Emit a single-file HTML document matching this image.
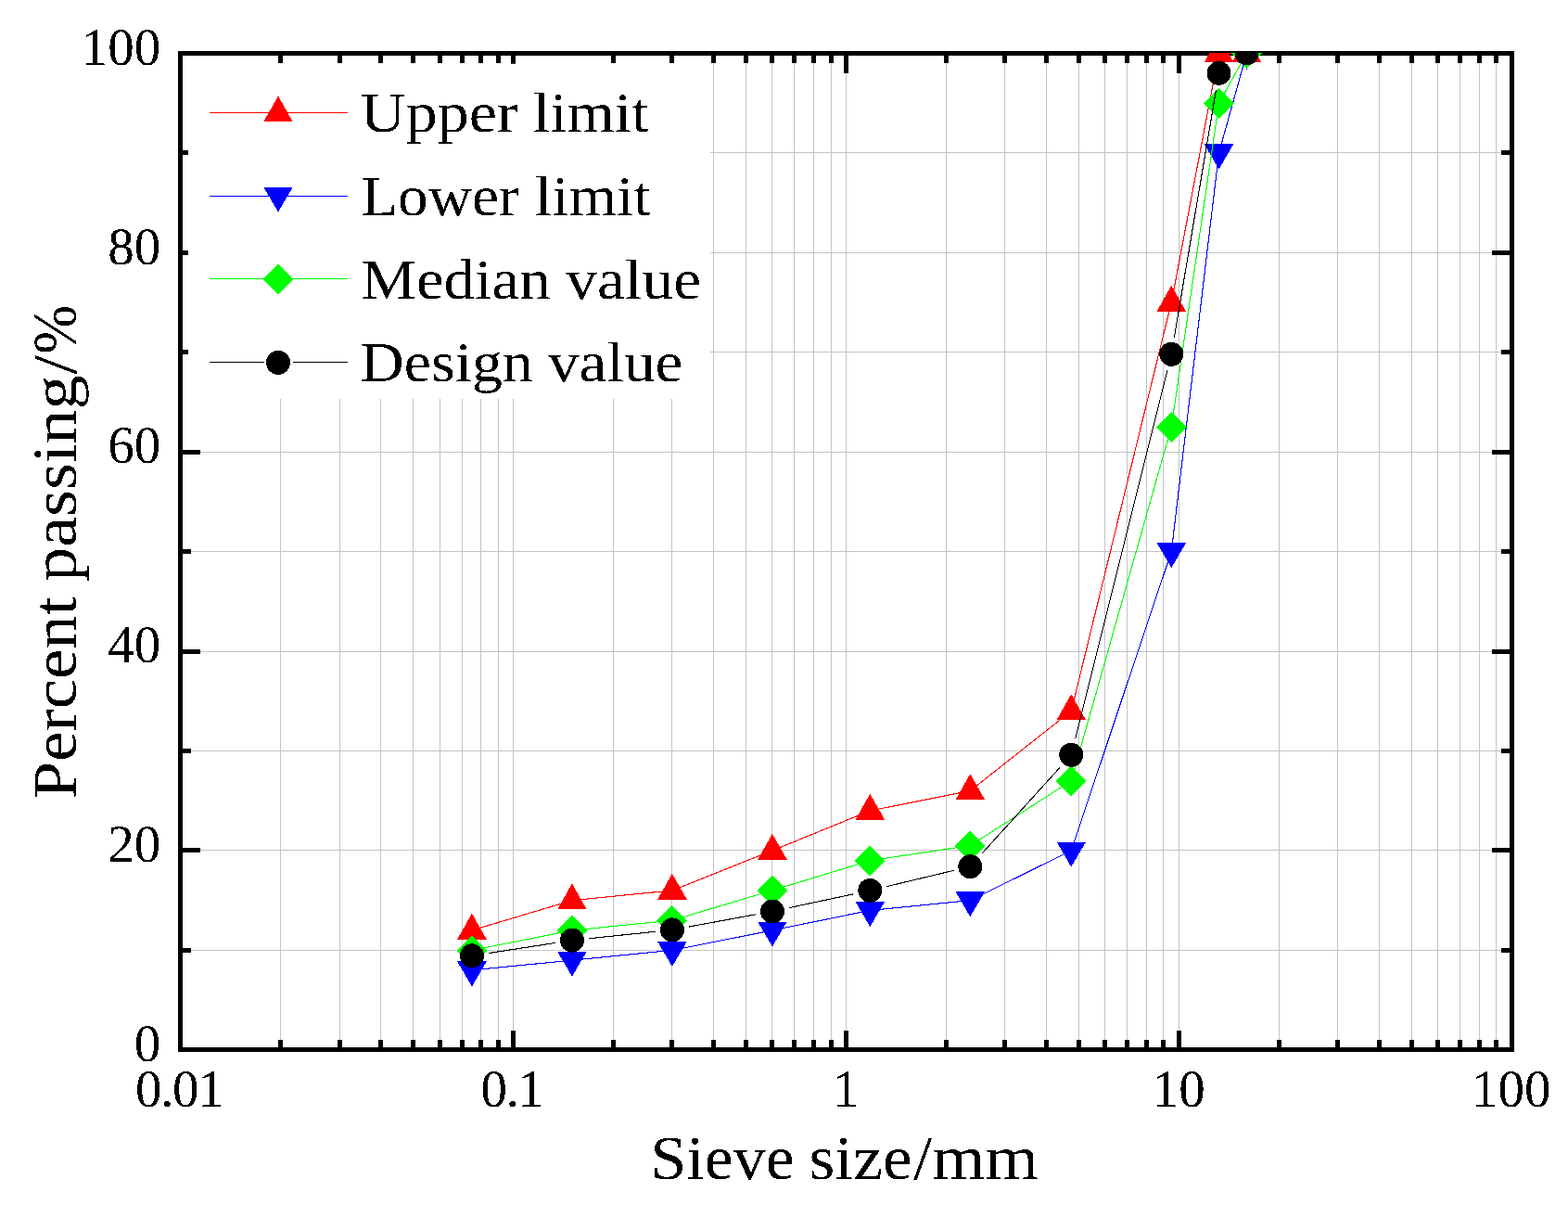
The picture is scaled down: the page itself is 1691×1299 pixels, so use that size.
<!DOCTYPE html>
<html lang="en"><head><meta charset="utf-8"><title>Sieve gradation curve</title>
<style>html,body{margin:0;padding:0;background:#fff;}body{width:1691px;height:1299px;overflow:hidden;}svg{display:block;}text{font-family:"Liberation Serif","DejaVu Serif",serif;fill:#000;}</style></head><body>
<svg width="1691" height="1299" viewBox="0 0 1691 1299" role="img" aria-label="Sieve gradation curve: percent passing versus sieve size">
<rect x="0" y="0" width="1691" height="1299" fill="#ffffff"/>
<defs><filter id="crisp" x="-5%" y="-5%" width="110%" height="110%" color-interpolation-filters="sRGB"><feComponentTransfer><feFuncA type="discrete" tableValues="0 1"/></feComponentTransfer></filter></defs>
<defs><clipPath id="plot"><rect x="194.5" y="57.0" width="1436.00" height="1074.50"/></clipPath></defs>
<g stroke="#c3c3c3" stroke-width="1" shape-rendering="crispEdges" fill="none">
<line x1="302.50" y1="57.5" x2="302.50" y2="1131.5"/>
<line x1="366.50" y1="57.5" x2="366.50" y2="1131.5"/>
<line x1="410.50" y1="57.5" x2="410.50" y2="1131.5"/>
<line x1="445.50" y1="57.5" x2="445.50" y2="1131.5"/>
<line x1="474.50" y1="57.5" x2="474.50" y2="1131.5"/>
<line x1="498.50" y1="57.5" x2="498.50" y2="1131.5"/>
<line x1="518.50" y1="57.5" x2="518.50" y2="1131.5"/>
<line x1="537.50" y1="57.5" x2="537.50" y2="1131.5"/>
<line x1="553.50" y1="57.5" x2="553.50" y2="1131.5"/>
<line x1="661.50" y1="57.5" x2="661.50" y2="1131.5"/>
<line x1="724.50" y1="57.5" x2="724.50" y2="1131.5"/>
<line x1="769.50" y1="57.5" x2="769.50" y2="1131.5"/>
<line x1="804.50" y1="57.5" x2="804.50" y2="1131.5"/>
<line x1="832.50" y1="57.5" x2="832.50" y2="1131.5"/>
<line x1="856.50" y1="57.5" x2="856.50" y2="1131.5"/>
<line x1="877.50" y1="57.5" x2="877.50" y2="1131.5"/>
<line x1="896.50" y1="57.5" x2="896.50" y2="1131.5"/>
<line x1="912.50" y1="57.5" x2="912.50" y2="1131.5"/>
<line x1="1020.50" y1="57.5" x2="1020.50" y2="1131.5"/>
<line x1="1083.50" y1="57.5" x2="1083.50" y2="1131.5"/>
<line x1="1128.50" y1="57.5" x2="1128.50" y2="1131.5"/>
<line x1="1163.50" y1="57.5" x2="1163.50" y2="1131.5"/>
<line x1="1191.50" y1="57.5" x2="1191.50" y2="1131.5"/>
<line x1="1215.50" y1="57.5" x2="1215.50" y2="1131.5"/>
<line x1="1236.50" y1="57.5" x2="1236.50" y2="1131.5"/>
<line x1="1254.50" y1="57.5" x2="1254.50" y2="1131.5"/>
<line x1="1271.50" y1="57.5" x2="1271.50" y2="1131.5"/>
<line x1="1379.50" y1="57.5" x2="1379.50" y2="1131.5"/>
<line x1="1442.50" y1="57.5" x2="1442.50" y2="1131.5"/>
<line x1="1487.50" y1="57.5" x2="1487.50" y2="1131.5"/>
<line x1="1522.50" y1="57.5" x2="1522.50" y2="1131.5"/>
<line x1="1550.50" y1="57.5" x2="1550.50" y2="1131.5"/>
<line x1="1574.50" y1="57.5" x2="1574.50" y2="1131.5"/>
<line x1="1595.50" y1="57.5" x2="1595.50" y2="1131.5"/>
<line x1="1613.50" y1="57.5" x2="1613.50" y2="1131.5"/>
<line x1="194.5" y1="1024.50" x2="1630.5" y2="1024.50"/>
<line x1="194.5" y1="916.50" x2="1630.5" y2="916.50"/>
<line x1="194.5" y1="809.50" x2="1630.5" y2="809.50"/>
<line x1="194.5" y1="702.50" x2="1630.5" y2="702.50"/>
<line x1="194.5" y1="594.50" x2="1630.5" y2="594.50"/>
<line x1="194.5" y1="487.50" x2="1630.5" y2="487.50"/>
<line x1="194.5" y1="379.50" x2="1630.5" y2="379.50"/>
<line x1="194.5" y1="272.50" x2="1630.5" y2="272.50"/>
<line x1="194.5" y1="164.50" x2="1630.5" y2="164.50"/>
</g>
<g stroke="#000" stroke-width="5.0" fill="none" shape-rendering="crispEdges">
<line x1="302.50" y1="1131.5" x2="302.50" y2="1121.0"/>
<line x1="302.50" y1="57.5" x2="302.50" y2="68.0"/>
<line x1="366.50" y1="1131.5" x2="366.50" y2="1121.0"/>
<line x1="366.50" y1="57.5" x2="366.50" y2="68.0"/>
<line x1="410.50" y1="1131.5" x2="410.50" y2="1121.0"/>
<line x1="410.50" y1="57.5" x2="410.50" y2="68.0"/>
<line x1="445.50" y1="1131.5" x2="445.50" y2="1121.0"/>
<line x1="445.50" y1="57.5" x2="445.50" y2="68.0"/>
<line x1="474.50" y1="1131.5" x2="474.50" y2="1121.0"/>
<line x1="474.50" y1="57.5" x2="474.50" y2="68.0"/>
<line x1="498.50" y1="1131.5" x2="498.50" y2="1121.0"/>
<line x1="498.50" y1="57.5" x2="498.50" y2="68.0"/>
<line x1="518.50" y1="1131.5" x2="518.50" y2="1121.0"/>
<line x1="518.50" y1="57.5" x2="518.50" y2="68.0"/>
<line x1="537.50" y1="1131.5" x2="537.50" y2="1121.0"/>
<line x1="537.50" y1="57.5" x2="537.50" y2="68.0"/>
<line x1="553.50" y1="1131.5" x2="553.50" y2="1111.0"/>
<line x1="553.50" y1="57.5" x2="553.50" y2="78.5"/>
<line x1="661.50" y1="1131.5" x2="661.50" y2="1121.0"/>
<line x1="661.50" y1="57.5" x2="661.50" y2="68.0"/>
<line x1="724.50" y1="1131.5" x2="724.50" y2="1121.0"/>
<line x1="724.50" y1="57.5" x2="724.50" y2="68.0"/>
<line x1="769.50" y1="1131.5" x2="769.50" y2="1121.0"/>
<line x1="769.50" y1="57.5" x2="769.50" y2="68.0"/>
<line x1="804.50" y1="1131.5" x2="804.50" y2="1121.0"/>
<line x1="804.50" y1="57.5" x2="804.50" y2="68.0"/>
<line x1="832.50" y1="1131.5" x2="832.50" y2="1121.0"/>
<line x1="832.50" y1="57.5" x2="832.50" y2="68.0"/>
<line x1="856.50" y1="1131.5" x2="856.50" y2="1121.0"/>
<line x1="856.50" y1="57.5" x2="856.50" y2="68.0"/>
<line x1="877.50" y1="1131.5" x2="877.50" y2="1121.0"/>
<line x1="877.50" y1="57.5" x2="877.50" y2="68.0"/>
<line x1="896.50" y1="1131.5" x2="896.50" y2="1121.0"/>
<line x1="896.50" y1="57.5" x2="896.50" y2="68.0"/>
<line x1="912.50" y1="1131.5" x2="912.50" y2="1111.0"/>
<line x1="912.50" y1="57.5" x2="912.50" y2="78.5"/>
<line x1="1020.50" y1="1131.5" x2="1020.50" y2="1121.0"/>
<line x1="1020.50" y1="57.5" x2="1020.50" y2="68.0"/>
<line x1="1083.50" y1="1131.5" x2="1083.50" y2="1121.0"/>
<line x1="1083.50" y1="57.5" x2="1083.50" y2="68.0"/>
<line x1="1128.50" y1="1131.5" x2="1128.50" y2="1121.0"/>
<line x1="1128.50" y1="57.5" x2="1128.50" y2="68.0"/>
<line x1="1163.50" y1="1131.5" x2="1163.50" y2="1121.0"/>
<line x1="1163.50" y1="57.5" x2="1163.50" y2="68.0"/>
<line x1="1191.50" y1="1131.5" x2="1191.50" y2="1121.0"/>
<line x1="1191.50" y1="57.5" x2="1191.50" y2="68.0"/>
<line x1="1215.50" y1="1131.5" x2="1215.50" y2="1121.0"/>
<line x1="1215.50" y1="57.5" x2="1215.50" y2="68.0"/>
<line x1="1236.50" y1="1131.5" x2="1236.50" y2="1121.0"/>
<line x1="1236.50" y1="57.5" x2="1236.50" y2="68.0"/>
<line x1="1254.50" y1="1131.5" x2="1254.50" y2="1121.0"/>
<line x1="1254.50" y1="57.5" x2="1254.50" y2="68.0"/>
<line x1="1271.50" y1="1131.5" x2="1271.50" y2="1111.0"/>
<line x1="1271.50" y1="57.5" x2="1271.50" y2="78.5"/>
<line x1="1379.50" y1="1131.5" x2="1379.50" y2="1121.0"/>
<line x1="1379.50" y1="57.5" x2="1379.50" y2="68.0"/>
<line x1="1442.50" y1="1131.5" x2="1442.50" y2="1121.0"/>
<line x1="1442.50" y1="57.5" x2="1442.50" y2="68.0"/>
<line x1="1487.50" y1="1131.5" x2="1487.50" y2="1121.0"/>
<line x1="1487.50" y1="57.5" x2="1487.50" y2="68.0"/>
<line x1="1522.50" y1="1131.5" x2="1522.50" y2="1121.0"/>
<line x1="1522.50" y1="57.5" x2="1522.50" y2="68.0"/>
<line x1="1550.50" y1="1131.5" x2="1550.50" y2="1121.0"/>
<line x1="1550.50" y1="57.5" x2="1550.50" y2="68.0"/>
<line x1="1574.50" y1="1131.5" x2="1574.50" y2="1121.0"/>
<line x1="1574.50" y1="57.5" x2="1574.50" y2="68.0"/>
<line x1="1595.50" y1="1131.5" x2="1595.50" y2="1121.0"/>
<line x1="1595.50" y1="57.5" x2="1595.50" y2="68.0"/>
<line x1="1613.50" y1="1131.5" x2="1613.50" y2="1121.0"/>
<line x1="1613.50" y1="57.5" x2="1613.50" y2="68.0"/>
<line x1="194.5" y1="1024.50" x2="206.0" y2="1024.50"/>
<line x1="1630.5" y1="1024.50" x2="1619.0" y2="1024.50"/>
<line x1="194.5" y1="916.50" x2="216.0" y2="916.50"/>
<line x1="1630.5" y1="916.50" x2="1609.0" y2="916.50"/>
<line x1="194.5" y1="809.50" x2="206.0" y2="809.50"/>
<line x1="1630.5" y1="809.50" x2="1619.0" y2="809.50"/>
<line x1="194.5" y1="702.50" x2="216.0" y2="702.50"/>
<line x1="1630.5" y1="702.50" x2="1609.0" y2="702.50"/>
<line x1="194.5" y1="594.50" x2="206.0" y2="594.50"/>
<line x1="1630.5" y1="594.50" x2="1619.0" y2="594.50"/>
<line x1="194.5" y1="487.50" x2="216.0" y2="487.50"/>
<line x1="1630.5" y1="487.50" x2="1609.0" y2="487.50"/>
<line x1="194.5" y1="379.50" x2="206.0" y2="379.50"/>
<line x1="1630.5" y1="379.50" x2="1619.0" y2="379.50"/>
<line x1="194.5" y1="272.50" x2="216.0" y2="272.50"/>
<line x1="1630.5" y1="272.50" x2="1609.0" y2="272.50"/>
<line x1="194.5" y1="164.50" x2="206.0" y2="164.50"/>
<line x1="1630.5" y1="164.50" x2="1619.0" y2="164.50"/>
</g>
<rect x="203.0" y="68.8" width="563.00" height="361.20" fill="#ffffff"/>
<line x1="226" y1="121.50" x2="375" y2="121.50" stroke="#ff0000" stroke-width="1" shape-rendering="crispEdges"/>
<polygon points="300.00,103.50 284.20,131.30 315.80,131.30" fill="#ff0000" shape-rendering="crispEdges"/>
<line x1="226" y1="211.50" x2="375" y2="211.50" stroke="#0000ff" stroke-width="1" shape-rendering="crispEdges"/>
<polygon points="300.00,228.60 284.20,201.60 315.80,201.60" fill="#0000ff" shape-rendering="crispEdges"/>
<line x1="226" y1="300.50" x2="375" y2="300.50" stroke="#00ff00" stroke-width="1" shape-rendering="crispEdges"/>
<polygon points="300.00,284.50 316.50,301.00 300.00,317.50 283.50,301.00" fill="#00ff00" shape-rendering="crispEdges"/>
<g stroke="#000000" stroke-width="1" shape-rendering="crispEdges"><line x1="226" y1="390.50" x2="285.00" y2="390.50"/><line x1="316.00" y1="390.50" x2="375" y2="390.50"/></g>
<circle cx="300.00" cy="390.90" r="13.0" fill="#000000" shape-rendering="crispEdges"/>
<rect x="194.5" y="57.5" width="1436.00" height="1074.00" stroke="#000" stroke-width="5.0" fill="none" shape-rendering="crispEdges"/>
<g clip-path="url(#plot)">
<g stroke="#ff0000" stroke-width="1.1" fill="none" shape-rendering="crispEdges">
<line x1="508.94" y1="1002.91" x2="616.93" y2="970.67"/>
<line x1="616.93" y1="970.67" x2="724.93" y2="959.93"/>
<line x1="724.93" y1="959.93" x2="832.93" y2="916.95"/>
<line x1="832.93" y1="916.95" x2="938.31" y2="873.97"/>
<line x1="938.31" y1="873.97" x2="1046.31" y2="852.48"/>
<line x1="1046.31" y1="852.48" x2="1155.29" y2="766.52"/>
<line x1="1155.29" y1="766.52" x2="1263.29" y2="325.98"/>
<line x1="1263.29" y1="325.98" x2="1314.54" y2="57.35"/>
<line x1="1314.54" y1="57.35" x2="1344.51" y2="57.35"/>
</g>
<g>
<polygon points="508.94,984.71 493.14,1012.51 524.74,1012.51" fill="#ff0000" shape-rendering="crispEdges"/>
<polygon points="616.93,952.47 601.13,980.27 632.73,980.27" fill="#ff0000" shape-rendering="crispEdges"/>
<polygon points="724.93,941.73 709.13,969.53 740.73,969.53" fill="#ff0000" shape-rendering="crispEdges"/>
<polygon points="832.93,898.75 817.13,926.55 848.73,926.55" fill="#ff0000" shape-rendering="crispEdges"/>
<polygon points="938.31,855.77 922.51,883.57 954.11,883.57" fill="#ff0000" shape-rendering="crispEdges"/>
<polygon points="1046.31,834.28 1030.51,862.08 1062.11,862.08" fill="#ff0000" shape-rendering="crispEdges"/>
<polygon points="1155.29,748.32 1139.49,776.12 1171.09,776.12" fill="#ff0000" shape-rendering="crispEdges"/>
<polygon points="1263.29,307.78 1247.49,335.58 1279.09,335.58" fill="#ff0000" shape-rendering="crispEdges"/>
<polygon points="1314.54,39.15 1298.74,66.95 1330.34,66.95" fill="#ff0000" shape-rendering="crispEdges"/>
<polygon points="1344.51,39.15 1328.71,66.95 1360.31,66.95" fill="#ff0000" shape-rendering="crispEdges"/>
</g>
<g stroke="#0000ff" stroke-width="1.1" fill="none" shape-rendering="crispEdges">
<line x1="508.94" y1="1045.89" x2="616.93" y2="1035.14"/>
<line x1="616.93" y1="1035.14" x2="724.93" y2="1024.40"/>
<line x1="724.93" y1="1024.40" x2="832.93" y2="1002.91"/>
<line x1="832.93" y1="1002.91" x2="938.31" y2="981.42"/>
<line x1="938.31" y1="981.42" x2="1046.31" y2="970.67"/>
<line x1="1046.31" y1="970.67" x2="1155.29" y2="916.95"/>
<line x1="1155.29" y1="916.95" x2="1263.29" y2="594.60"/>
<line x1="1263.29" y1="594.60" x2="1314.54" y2="164.80"/>
<line x1="1314.54" y1="164.80" x2="1344.51" y2="57.35"/>
</g>
<g>
<polygon points="508.94,1063.49 493.14,1036.49 524.74,1036.49" fill="#0000ff" shape-rendering="crispEdges"/>
<polygon points="616.93,1052.74 601.13,1025.74 632.73,1025.74" fill="#0000ff" shape-rendering="crispEdges"/>
<polygon points="724.93,1042.00 709.13,1015.00 740.73,1015.00" fill="#0000ff" shape-rendering="crispEdges"/>
<polygon points="832.93,1020.51 817.13,993.51 848.73,993.51" fill="#0000ff" shape-rendering="crispEdges"/>
<polygon points="938.31,999.02 922.51,972.02 954.11,972.02" fill="#0000ff" shape-rendering="crispEdges"/>
<polygon points="1046.31,988.27 1030.51,961.27 1062.11,961.27" fill="#0000ff" shape-rendering="crispEdges"/>
<polygon points="1155.29,934.55 1139.49,907.55 1171.09,907.55" fill="#0000ff" shape-rendering="crispEdges"/>
<polygon points="1263.29,612.20 1247.49,585.20 1279.09,585.20" fill="#0000ff" shape-rendering="crispEdges"/>
<polygon points="1314.54,182.40 1298.74,155.40 1330.34,155.40" fill="#0000ff" shape-rendering="crispEdges"/>
<polygon points="1344.51,74.95 1328.71,47.95 1360.31,47.95" fill="#0000ff" shape-rendering="crispEdges"/>
</g>
<g stroke="#00ff00" stroke-width="1.1" fill="none" shape-rendering="crispEdges">
<line x1="508.94" y1="1024.40" x2="616.93" y2="1002.91"/>
<line x1="616.93" y1="1002.91" x2="724.93" y2="992.16"/>
<line x1="724.93" y1="992.16" x2="832.93" y2="959.93"/>
<line x1="832.93" y1="959.93" x2="938.31" y2="927.69"/>
<line x1="938.31" y1="927.69" x2="1046.31" y2="911.58"/>
<line x1="1046.31" y1="911.58" x2="1155.29" y2="841.73"/>
<line x1="1155.29" y1="841.73" x2="1263.29" y2="460.29"/>
<line x1="1263.29" y1="460.29" x2="1314.54" y2="111.07"/>
<line x1="1314.54" y1="111.07" x2="1344.51" y2="57.35"/>
</g>
<g>
<polygon points="508.94,1008.30 525.44,1024.80 508.94,1041.30 492.44,1024.80" fill="#00ff00" shape-rendering="crispEdges"/>
<polygon points="616.93,986.81 633.43,1003.31 616.93,1019.81 600.43,1003.31" fill="#00ff00" shape-rendering="crispEdges"/>
<polygon points="724.93,976.06 741.43,992.56 724.93,1009.06 708.43,992.56" fill="#00ff00" shape-rendering="crispEdges"/>
<polygon points="832.93,943.83 849.43,960.33 832.93,976.83 816.43,960.33" fill="#00ff00" shape-rendering="crispEdges"/>
<polygon points="938.31,911.59 954.81,928.09 938.31,944.59 921.81,928.09" fill="#00ff00" shape-rendering="crispEdges"/>
<polygon points="1046.31,895.48 1062.81,911.98 1046.31,928.48 1029.81,911.98" fill="#00ff00" shape-rendering="crispEdges"/>
<polygon points="1155.29,825.63 1171.79,842.13 1155.29,858.63 1138.79,842.13" fill="#00ff00" shape-rendering="crispEdges"/>
<polygon points="1263.29,444.19 1279.79,460.69 1263.29,477.19 1246.79,460.69" fill="#00ff00" shape-rendering="crispEdges"/>
<polygon points="1314.54,94.97 1331.04,111.47 1314.54,127.97 1298.04,111.47" fill="#00ff00" shape-rendering="crispEdges"/>
<polygon points="1344.51,41.25 1361.01,57.75 1344.51,74.25 1328.01,57.75" fill="#00ff00" shape-rendering="crispEdges"/>
</g>
<g stroke="#000000" stroke-width="1.1" fill="none" shape-rendering="crispEdges">
<line x1="527.02" y1="1027.52" x2="598.85" y2="1016.44"/>
<line x1="635.14" y1="1011.75" x2="706.73" y2="1004.27"/>
<line x1="742.93" y1="999.06" x2="814.93" y2="985.81"/>
<line x1="850.82" y1="978.66" x2="920.41" y2="963.76"/>
<line x1="956.11" y1="955.68" x2="1028.51" y2="938.39"/>
<line x1="1058.59" y1="920.58" x2="1143.01" y2="827.36"/>
<line x1="1159.73" y1="796.04" x2="1258.85" y2="399.60"/>
<line x1="1266.34" y1="363.81" x2="1311.49" y2="96.88"/>
</g>
<g>
<circle cx="508.94" cy="1030.31" r="13.0" fill="#000000" shape-rendering="crispEdges"/>
<circle cx="616.93" cy="1013.65" r="13.0" fill="#000000" shape-rendering="crispEdges"/>
<circle cx="724.93" cy="1002.37" r="13.0" fill="#000000" shape-rendering="crispEdges"/>
<circle cx="832.93" cy="982.49" r="13.0" fill="#000000" shape-rendering="crispEdges"/>
<circle cx="938.31" cy="959.93" r="13.0" fill="#000000" shape-rendering="crispEdges"/>
<circle cx="1046.31" cy="934.14" r="13.0" fill="#000000" shape-rendering="crispEdges"/>
<circle cx="1155.29" cy="813.80" r="13.0" fill="#000000" shape-rendering="crispEdges"/>
<circle cx="1263.29" cy="381.85" r="13.0" fill="#000000" shape-rendering="crispEdges"/>
<circle cx="1314.54" cy="78.84" r="13.0" fill="#000000" shape-rendering="crispEdges"/>
<circle cx="1344.51" cy="57.35" r="13.0" fill="#000000" shape-rendering="crispEdges"/>
</g>
</g>
<g filter="url(#crisp)">
<text id="t-y0" transform="translate(173.30,1143.70) scale(1.0000,1)" font-size="57" text-anchor="end">0</text>
<text id="t-y20" transform="translate(173.30,928.90) scale(1.0000,1)" font-size="57" text-anchor="end">20</text>
<text id="t-y40" transform="translate(173.30,714.10) scale(1.0000,1)" font-size="57" text-anchor="end">40</text>
<text id="t-y60" transform="translate(173.30,499.30) scale(1.0000,1)" font-size="57" text-anchor="end">60</text>
<text id="t-y80" transform="translate(173.30,284.50) scale(1.0000,1)" font-size="57" text-anchor="end">80</text>
<text id="t-y100" transform="translate(173.30,69.70) scale(1.0000,1)" font-size="57" text-anchor="end">100</text>
<text id="t-x0.01" transform="translate(193.20,1192.60) scale(1.0000,1)" font-size="57" text-anchor="middle" letter-spacing="-1.34">0.01</text>
<text id="t-x0.1" transform="translate(551.86,1192.60) scale(1.0000,1)" font-size="57" text-anchor="middle" letter-spacing="-1.5">0.1</text>
<text id="t-x1" transform="translate(912.22,1192.60) scale(1.0000,1)" font-size="57" text-anchor="middle">1</text>
<text id="t-x10" transform="translate(1271.28,1192.60) scale(1.0000,1)" font-size="57" text-anchor="middle">10</text>
<text id="t-x100" transform="translate(1629.64,1192.60) scale(1.0000,1)" font-size="57" text-anchor="middle">100</text>
<text id="t-leg0" transform="translate(0,142.00)" font-size="62.3"><tspan id="s-leg0-0" x="388.60" textLength="170.02" lengthAdjust="spacingAndGlyphs">Upper</tspan> <tspan id="s-leg0-1" x="575.00" textLength="124.46" lengthAdjust="spacingAndGlyphs">limit</tspan></text>
<text id="t-leg1" transform="translate(0,232.00)" font-size="62.3"><tspan id="s-leg1-0" x="389.20" textLength="170.62" lengthAdjust="spacingAndGlyphs">Lower</tspan> <tspan id="s-leg1-1" x="577.00" textLength="124.67" lengthAdjust="spacingAndGlyphs">limit</tspan></text>
<text id="t-leg2" transform="translate(0,321.70)" font-size="62.3"><tspan id="s-leg2-0" x="389.40" textLength="204.39" lengthAdjust="spacingAndGlyphs">Median</tspan> <tspan id="s-leg2-1" x="610.20" textLength="145.99" lengthAdjust="spacingAndGlyphs">value</tspan></text>
<text id="t-leg3" transform="translate(0,410.80)" font-size="62.3"><tspan id="s-leg3-0" x="388.30" textLength="186.45" lengthAdjust="spacingAndGlyphs">Design</tspan> <tspan id="s-leg3-1" x="591.00" textLength="145.38" lengthAdjust="spacingAndGlyphs">value</tspan></text>
<text id="t-xt" transform="translate(0,1270.70)" font-size="67.5"><tspan id="s-xt-0" x="701.40" textLength="155.41" lengthAdjust="spacingAndGlyphs">Sieve</tspan> <tspan id="s-xt-1" x="872.40" textLength="111.31" lengthAdjust="spacingAndGlyphs">size</tspan><tspan id="s-xt-2" x="985.00" textLength="20.00" lengthAdjust="spacingAndGlyphs">/</tspan><tspan id="s-xt-3" x="1005.00" textLength="115.07" lengthAdjust="spacingAndGlyphs">mm</tspan></text>
<text id="t-yt" transform="translate(81.70,0) rotate(-90)" font-size="67.5"><tspan id="s-yt-0" x="-861.20" textLength="218.03" lengthAdjust="spacingAndGlyphs">Percent</tspan> <tspan id="s-yt-1" x="-627.00" textLength="222.62" lengthAdjust="spacingAndGlyphs">passing</tspan><tspan id="s-yt-2" x="-403.80" textLength="20.82" lengthAdjust="spacingAndGlyphs">/</tspan><tspan id="s-yt-3" x="-381.40" textLength="52.55" lengthAdjust="spacingAndGlyphs">%</tspan></text>
</g>
</svg></body></html>
